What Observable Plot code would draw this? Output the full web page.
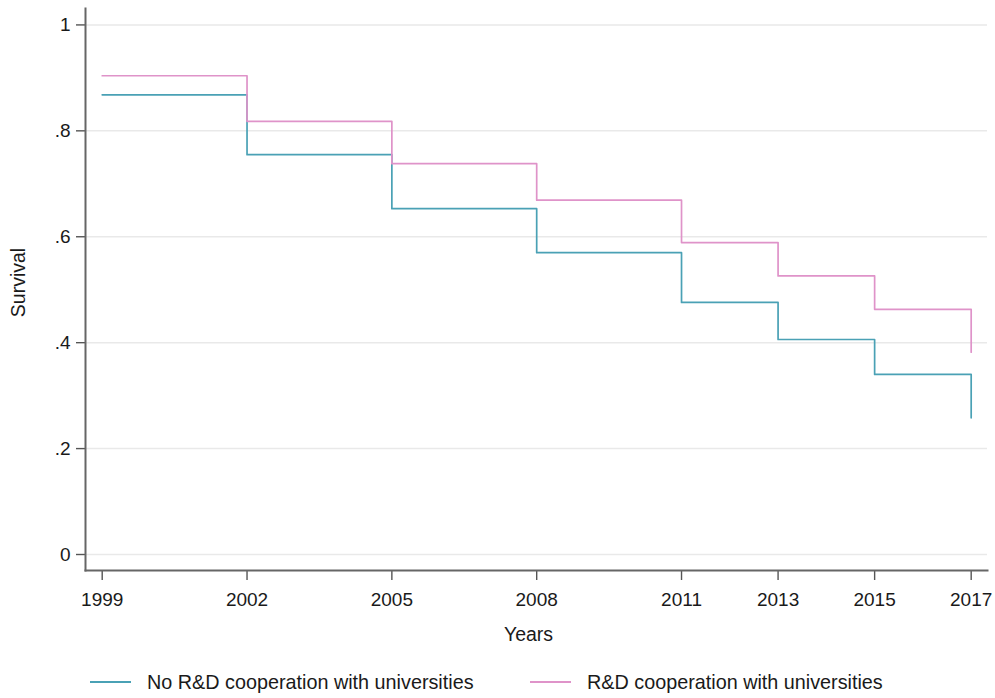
<!DOCTYPE html>
<html>
<head>
<meta charset="utf-8">
<script src="https://cdn.jsdelivr.net/npm/d3@7"></script>
<script src="https://cdn.jsdelivr.net/npm/@observablehq/plot@0.6"></script>
<style>
  html, body { margin: 0; padding: 0; background: #fff; }
  body { width: 995px; height: 698px; overflow: hidden; font-family: "Liberation Sans", Arial, sans-serif; }
  #legend { position: relative; height: 38px; font-size: 19.8px; color: #1a1a1a; }
  .item { position: absolute; top: 3px; height: 38px; display: flex; align-items: center; }
  .sw { width: 41px; height: 0; border-top: 2px solid; margin-right: 16px; }
</style>
</head>
<body>
<div id="chart"></div>
<div id="legend"></div>
<script>
const years = [1999, 2002, 2005, 2008, 2011, 2013, 2015, 2017];
const seriesNames = ["No R&D cooperation with universities", "R&D cooperation with universities"];
const noCoop = [0.868, 0.755, 0.653, 0.570, 0.476, 0.406, 0.340, 0.258];
const coop = [0.904, 0.818, 0.738, 0.669, 0.589, 0.526, 0.463, 0.382];
const yTicks = [0, 0.2, 0.4, 0.6, 0.8, 1];
const xLabel = "Years";
const yLabel = "Survival";
const colors = ["#4aa1b5", "#df93c9"];

const data = [
  ...years.map((yr, i) => ({year: yr, value: noCoop[i], series: seriesNames[0]})),
  ...years.map((yr, i) => ({year: yr, value: coop[i], series: seriesNames[1]}))
];

const fmt = d => d === 0 ? "0" : d === 1 ? "1" : String(d).replace(/^0\./, ".");

const chart = Plot.plot({
  width: 995,
  height: 660,
  marginLeft: 85,
  marginRight: 8,
  marginTop: 8,
  marginBottom: 90,
  style: {fontFamily: "\"Liberation Sans\", Arial, sans-serif", fontSize: "19px", color: "#1a1a1a", background: "#fff"},
  x: {domain: [1998.654, 2017.338]},
  y: {domain: [-0.0302, 1.031]},
  color: {domain: seriesNames, range: colors},
  marks: [
    Plot.gridY(yTicks, {stroke: "#e9e9e9", strokeOpacity: 1, strokeWidth: 1.5}),
    Plot.axisY(yTicks, {tickFormat: fmt, tickSize: 9, tickPadding: 6, stroke: "#555", strokeWidth: 1.4, fontSize: 19, label: null}),
    Plot.axisX(years, {tickFormat: d => String(d), tickSize: 10, tickPadding: 12, stroke: "#555", strokeWidth: 1.4, fontSize: 19, label: null}),
    Plot.text([xLabel], {frameAnchor: "bottom", lineAnchor: "middle", dy: 64, dx: -8, fontSize: 19.5, fill: "#1a1a1a"}),
    Plot.text([yLabel], {frameAnchor: "left", textAnchor: "middle", lineAnchor: "middle", rotate: -90, dx: -67, dy: -7, fontSize: 19.5, fill: "#1a1a1a"}),
    Plot.frame({anchor: "left", stroke: "#666", strokeWidth: 2}),
    Plot.frame({anchor: "bottom", stroke: "#666", strokeWidth: 2}),
    Plot.line(data, {x: "year", y: "value", z: "series", stroke: "series", curve: "step-after", strokeWidth: 1.7})
  ]
});
document.getElementById("chart").appendChild(chart);

const scale = chart.scale("color");
const legend = document.getElementById("legend");
const lefts = [90, 530];
seriesNames.forEach((name, i) => {
  const it = document.createElement("div");
  it.className = "item";
  it.style.left = lefts[i] + "px";
  const sw = document.createElement("span");
  sw.className = "sw";
  sw.style.borderColor = scale.apply(name);
  const tx = document.createElement("span");
  tx.textContent = name;
  it.appendChild(sw);
  it.appendChild(tx);
  legend.appendChild(it);
});
</script>
</body>
</html>
